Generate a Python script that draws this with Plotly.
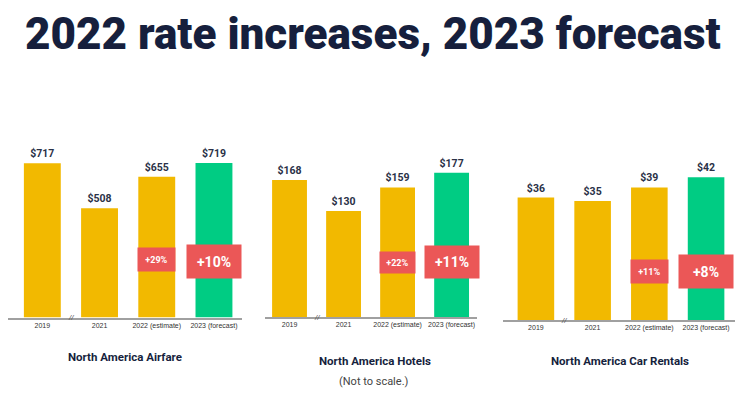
import plotly.graph_objects as go

# ---- data ----
categories = ["2019", "2021", "2022 (estimate)", "2023 (forecast)"]
airfare = [717, 508, 655, 719]
hotels = [168, 130, 159, 177]
car_rentals = [36, 35, 39, 42]
panel_titles = ["North America Airfare", "North America Hotels", "North America Car Rentals"]
change_2022 = ["+29%", "+22%", "+11%"]
change_2023 = ["+10%", "+11%", "+8%"]
title_text = "2022 rate increases, 2023 forecast"
note_text = "(Not to scale.)"

W, H = 740, 395
NAVY = "#161f3d"
YELLOW = "#F2B900"
GREEN = "#00CC83"
RED = "#EB5757"
colors = [YELLOW, YELLOW, YELLOW, GREEN]

def py(y):
    return 1 - y / H

def px(x):
    return x / W

# layout per panel (pixel geometry)
panels = [
    dict(vals=airfare, xd=(8, 242), xr=(-0.6, 3.49), base=317.5, scale=0.215,
         small=(259.5, 23), large=(261.5, 33), tx=125, ty=357),
    dict(vals=hotels, xd=(265, 477), xr=(-0.454, 3.47), base=317, scale=0.815,
         small=(262.5, 21), large=(262, 32), tx=375, ty=361),
    dict(vals=car_rentals, xd=(503, 735), xr=(-0.58, 3.51), base=320, scale=3.40,
         small=(271.5, 23), large=(271.5, 33), tx=620, ty=361),
]
TOP = 150

fig = go.Figure()
annotations = []
for i, p in enumerate(panels):
    sfx = "" if i == 0 else str(i + 1)
    fig.add_trace(go.Bar(
        x=categories, y=p["vals"], marker=dict(color=colors, line=dict(width=0)),
        text=[f"${v}" for v in p["vals"]], textposition="outside",
        textfont=dict(family="Roboto", size=10.5, color="#2a3147", weight="bold"),
        cliponaxis=False, xaxis="x" + sfx, yaxis="y" + sfx, showlegend=False,
        hoverinfo="skip"))
    fig.update_layout(**{
        "xaxis" + sfx: dict(domain=[px(p["xd"][0]), px(p["xd"][1])], range=list(p["xr"]),
                            anchor="y" + sfx, showline=True, linecolor="#a0a0a0", linewidth=1.5,
                            ticks="", showgrid=False, zeroline=False, tickangle=0,
                            automargin=False,
                            tickfont=dict(family="Liberation Sans, Arial", size=7, color="#333333")),
        "yaxis" + sfx: dict(domain=[py(p["base"]), py(TOP)],
                            range=[0, (p["base"] - TOP) / p["scale"]], anchor="x" + sfx,
                            visible=False, showgrid=False, zeroline=False, automargin=False),
    })
    bw = (p["xd"][1] - p["xd"][0]) / (p["xr"][1] - p["xr"][0]) * 0.645
    annotations.append(dict(
        x=categories[2], y=py(p["small"][0]), xref="x" + sfx, yref="paper",
        text=f"<b>{change_2022[i]}</b>", showarrow=False, bgcolor=RED,
        width=bw, height=p["small"][1], borderpad=0, valign="middle",
        xanchor="center", yanchor="middle",
        font=dict(family="Roboto", size=9, color="white")))
    annotations.append(dict(
        x=categories[3], y=py(p["large"][0]), xref="x" + sfx, yref="paper",
        text=f"<b>{change_2023[i]}</b>", showarrow=False, bgcolor=RED,
        width=54, height=p["large"][1], borderpad=0, valign="middle",
        xanchor="center", yanchor="middle",
        font=dict(family="Roboto", size=14, color="white")))
    annotations.append(dict(
        x=0.5, y=0, xref="x" + sfx, yref="y" + sfx, text="<i>//</i>", showarrow=False,
        xanchor="center", yanchor="middle",
        font=dict(family="Liberation Sans, Arial", size=8, color="#555555")))
    annotations.append(dict(
        x=px(p["tx"]), y=py(p["ty"]), xref="paper", yref="paper",
        text=f"<b>{panel_titles[i]}</b>", showarrow=False,
        xanchor="center", yanchor="middle",
        font=dict(family="Roboto", size=11.5, color=NAVY)))

annotations.append(dict(
    x=px(374), y=py(381), xref="paper", yref="paper", text=note_text, showarrow=False,
    xanchor="center", yanchor="middle",
    font=dict(family="Roboto", size=11, color="#444444")))
annotations.append(dict(
    x=px(373), y=py(34), xref="paper", yref="paper", text=title_text,
    showarrow=False, xanchor="center", yanchor="middle",
    font=dict(family="Roboto", size=44, color=NAVY, weight=900)))

fig.update_layout(
    width=W, height=H, margin=dict(l=0, r=0, t=0, b=0),
    paper_bgcolor="white", plot_bgcolor="white", bargap=0.355,
    annotations=annotations,
)

fig.write_html("out.html", config={"displayModeBar": False},
               post_script="document.body.style.margin='0';document.body.style.overflow='hidden';")
